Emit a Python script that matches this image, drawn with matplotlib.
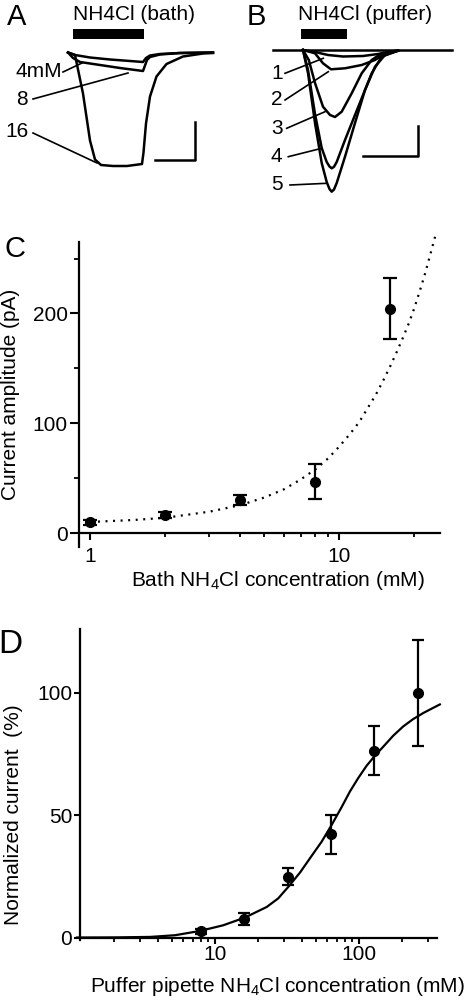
import numpy as np
import matplotlib
matplotlib.use("Agg")
import matplotlib.pyplot as plt

plt.rcParams["font.family"] = ["Liberation Sans", "DejaVu Sans"]
plt.rcParams["mathtext.fontset"] = "custom"
plt.rcParams["mathtext.rm"] = "Liberation Sans"
plt.rcParams["mathtext.default"] = "regular"

# ── Panel A: bath-applied NH4Cl traces (time, current, arbitrary units) ──────
a_t16 = [0, 7, 15, 22, 27, 33, 45, 59, 74, 75.5, 78, 82, 88.5, 98.5, 115, 135, 145]
a_i16 = [0, -2.5, -41, -88, -107, -112.5, -113.5, -113.5, -111.5, -100, -71, -44, -24, -11.5, -4, -1, -0.5]
a_t4 = [0, 7, 22, 42, 62, 75, 78, 82, 92, 112, 145]
a_i4 = [0, -2.5, -5, -7, -8.5, -9.5, -5.5, -3, -1.5, -0.5, 0]
a_t8 = [0, 5, 12, 32, 52, 75, 77, 79, 82, 92, 112, 145]
a_i8 = [0, -5.5, -9.5, -12.5, -15.5, -18.5, -13, -7.5, -4.5, -2, -0.5, 0]

# ── Panel B: puffer-applied NH4Cl traces ────────────────────────────────────
b_base_t = [-30, 0, 95, 149]
b_base_i = [0, 0, 0, 0]
b_t1 = [0, 12, 25, 40, 60, 75, 85, 95]
b_i1 = [0, -2, -5, -6.5, -6, -4, -2, -0.5]
b_t2 = [0, 12, 20, 28, 42, 58.7, 72, 80, 95]
b_i2 = [0, -3.3, -13.3, -19.3, -18.3, -15, -10, -5, -0.7]
b_t3 = [0, 5.8, 12, 20, 27, 32, 38.7, 48.7, 58.7, 68.7, 78.7, 95]
b_i3 = [0, -10, -33, -56.7, -65, -67, -61.7, -43.3, -23.3, -10, -3.3, -0.7]
b_t4 = [0, 5, 12, 18.7, 23.7, 26.5, 28.7, 31, 33.7, 42, 55.3, 68.7, 78.7, 95]
b_i4 = [0, -20, -64, -98, -112, -116.5, -118.3, -116.8, -112, -90, -56.7, -23.3, -6.7, -0.7]
b_t5 = [0, 5, 12, 18.7, 23.7, 26.5, 28.7, 31, 33.7, 42, 52, 62, 72, 82, 95]
b_i5 = [0, -23, -73, -113, -132, -139, -141.7, -139.5, -133, -106.7, -73, -40, -16.7, -5, -0.7]

# ── Panel C: bath concentration vs current amplitude ────────────────────────
c_conc = [1, 2, 4, 8, 16]
c_amp = [9.7, 16.4, 30, 46.7, 204.2]
c_err = [2, 3, 4.5, 16, 27.7]
c_fit_x = [1, 1.5, 2, 3, 4, 5, 6, 7, 8, 9, 10, 11, 12, 13, 14, 15, 16, 17, 18, 19, 20, 21, 22, 23, 24.3]
c_fit_y = [10.2, 12, 14, 19.5, 25.5, 32.5, 40, 49, 58, 68, 79, 90, 101, 114, 126, 139, 152, 165, 178, 191, 205, 220, 235, 251, 271]

# ── Panel D: puffer pipette concentration vs normalized current ─────────────
d_conc = [8, 16, 32, 64, 128, 256]
d_norm = [2.6, 7.5, 24.9, 42.3, 76.3, 100]
d_err = [1, 2.5, 3.4, 8, 10, 21.6]
d_fit_x = [1.1, 2, 3.54, 5.28, 7.87, 11.4, 16.2, 22.9, 27.5, 32.3, 38.9, 45.7, 55.1, 64.6,
           75.8, 86.6, 98.9, 113, 129, 148, 173, 203, 238, 280, 328, 365]
d_fit_y = [0, 0.05, 0.25, 0.94, 2.7, 5.0, 8.2, 12.5, 16.0, 20.7, 26.5, 32.4, 39.2, 46.0,
           53.3, 59.7, 65.2, 70.2, 74.3, 78.1, 82.5, 86.3, 89.3, 91.8, 93.9, 95.3]

fig = plt.figure(figsize=(4.74, 10.02), dpi=100)
FS = 15
TLW = 1.8

# ── A ───────────────────────────────────────────────────────────────────────
axA = fig.add_axes([0, 0.8004, 0.5, 0.1996])
axA.set_xlim(-68, 169)
axA.set_ylim(-147.5, 52.5)
axA.axis("off")
for t, i in [(a_t16, a_i16), (a_t8, a_i8), (a_t4, a_i4)]:
    axA.plot(t, i, color="k", lw=TLW, solid_joinstyle="round")
axA.fill_between([5, 76], 13.5, 23.5, color="k", lw=0)
axA.text(5, 37.5, "NH4Cl (bath)", fontsize=FS, ha="left", va="center")
axA.text(-61, 35, "A", fontsize=21, ha="left", va="center")
axA.plot([87, 127, 127], [-107.5, -107.5, -69.5], color="k", lw=1.8)
axA.plot([-5, 14], [-19.5, -10.5], color="k", lw=1.2)
axA.plot([-35, 60], [-46.5, -20.5], color="k", lw=1.2)
axA.plot([-35, 29], [-80.5, -110.5], color="k", lw=1.2)
axA.text(-6, -19.5, "4mM", fontsize=FS, ha="right", va="center")
axA.text(-40, -47.5, "8", fontsize=FS, ha="right", va="center")
axA.text(-39, -79.5, "16", fontsize=FS, ha="right", va="center")

# ── B ───────────────────────────────────────────────────────────────────────
axB = fig.add_axes([0.5, 0.8004, 0.5, 0.1996])
axB.set_xlim(-66, 171)
axB.set_ylim(-150, 50)
axB.axis("off")
axB.plot(b_base_t, b_base_i, color="k", lw=TLW)
for t, i in [(b_t1, b_i1), (b_t2, b_i2), (b_t3, b_i3), (b_t4, b_i4), (b_t5, b_i5)]:
    axB.plot(t, i, color="k", lw=TLW, solid_joinstyle="round")
axB.fill_between([-2, 44], 11, 21, color="k", lw=0)
axB.text(-5, 35, "NH4Cl (puffer)", fontsize=FS, ha="left", va="center")
axB.text(-56, 33, "B", fontsize=21, ha="left", va="center")
axB.plot([60, 115, 115], [-106, -106, -76], color="k", lw=1.8)
lbl_lines = [((-18, 20.3), (-23.3, -8.3)), ((-18, 25.3), (-50, -21.7)),
             ((-16.3, 22), (-78.3, -61.7)), ((-14.7, 18.7), (-106.7, -98.3)),
             ((-13, 23.7), (-135, -133.3))]
for (xs, ys), lab in zip(lbl_lines, ["1", "2", "3", "4", "5"]):
    axB.plot(xs, ys, color="k", lw=1.2)
    axB.text(-26.3, ys[0], lab, fontsize=FS, ha="center", va="center")

# ── C ───────────────────────────────────────────────────────────────────────
axC = fig.add_axes([0.1667, 0.454, 0.762, 0.3044])
axC.plot(c_fit_x, c_fit_y, color="k", lw=1.6, linestyle=(0, (0.9, 2.5)), clip_on=False)
axC.errorbar(c_conc, c_amp, yerr=c_err, fmt="o", color="k", ms=7,
             elinewidth=1.6, capsize=5, capthick=1.6, clip_on=False)
axC.set_xscale("log")
axC.set_xlim(0.9, 25.4)
axC.set_ylim(-12.7, 265)
axC.spines["top"].set_visible(False)
axC.spines["right"].set_visible(False)
axC.spines["bottom"].set_position(("data", 0))
axC.spines["left"].set_linewidth(1.6)
axC.spines["bottom"].set_linewidth(1.6)
axC.set_xticks([1, 10])
axC.set_xticklabels(["1", "10"])
axC.set_xticks([2, 3, 4, 5, 6, 7, 8, 9, 20], minor=True)
axC.set_xticklabels([], minor=True)
axC.set_yticks([0, 100, 200])
axC.set_yticks([50, 150, 250], minor=True)
axC.tick_params(axis="x", which="major", direction="out", length=5, width=1.5, pad=5, labelsize=FS)
axC.tick_params(axis="x", which="minor", direction="out", length=3, width=1.3)
axC.tick_params(axis="y", which="major", direction="out", length=6.5, width=1.5, pad=1.5, labelsize=FS)
axC.tick_params(axis="y", which="minor", direction="out", length=3.5, width=1.3)
axC.set_xlabel("Bath NH$_4$Cl concentration (mM)", fontsize=FS)
axC.xaxis.set_label_coords(0.551, -0.072)
axC.set_ylabel("Current amplitude (pA)", fontsize=FS)
axC.yaxis.set_label_coords(-0.163, 0.5)
fig.text(0.0105, 0.7515, "C", fontsize=21, ha="left", va="center")

# ── D ───────────────────────────────────────────────────────────────────────
axD = fig.add_axes([0.1688, 0.0619, 0.7525, 0.310])
axD.plot(d_fit_x, d_fit_y, color="k", lw=1.6, clip_on=False, solid_joinstyle="round")
axD.errorbar(d_conc, d_norm, yerr=d_err, fmt="o", color="k", ms=7,
             elinewidth=1.6, capsize=4.5, capthick=1.6, clip_on=False)
axD.set_xscale("log")
axD.set_xlim(1.155, 347)
axD.set_ylim(-1, 126)
axD.spines["top"].set_visible(False)
axD.spines["right"].set_visible(False)
axD.spines["bottom"].set_position(("data", 0))
axD.spines["left"].set_linewidth(1.6)
axD.spines["bottom"].set_linewidth(1.6)
axD.set_xticks([10, 100])
axD.set_xticklabels(["10", "100"])
axD.set_xticks([2, 3, 4, 5, 6, 7, 8, 9, 20, 30, 40, 50, 60, 70, 80, 90, 200, 300], minor=True)
axD.set_xticklabels([], minor=True)
axD.set_yticks([0, 50, 100])
axD.tick_params(axis="x", which="major", direction="out", length=4.5, width=1.5, pad=1, labelsize=FS)
axD.tick_params(axis="x", which="minor", direction="out", length=3, width=1.3)
axD.tick_params(axis="y", which="major", direction="out", length=4.5, width=1.5, pad=1, labelsize=FS)
axD.set_xlabel("Puffer pipette NH$_4$Cl concentration (mM)", fontsize=FS)
axD.xaxis.set_label_coords(0.555, -0.112)
axD.set_ylabel("Normalized current  (%)", fontsize=FS)
axD.yaxis.set_label_coords(-0.16, 0.402)
fig.text(-0.004, 0.3563, "D", fontsize=24, ha="left", va="center")

fig.savefig("out.png", dpi=100)
